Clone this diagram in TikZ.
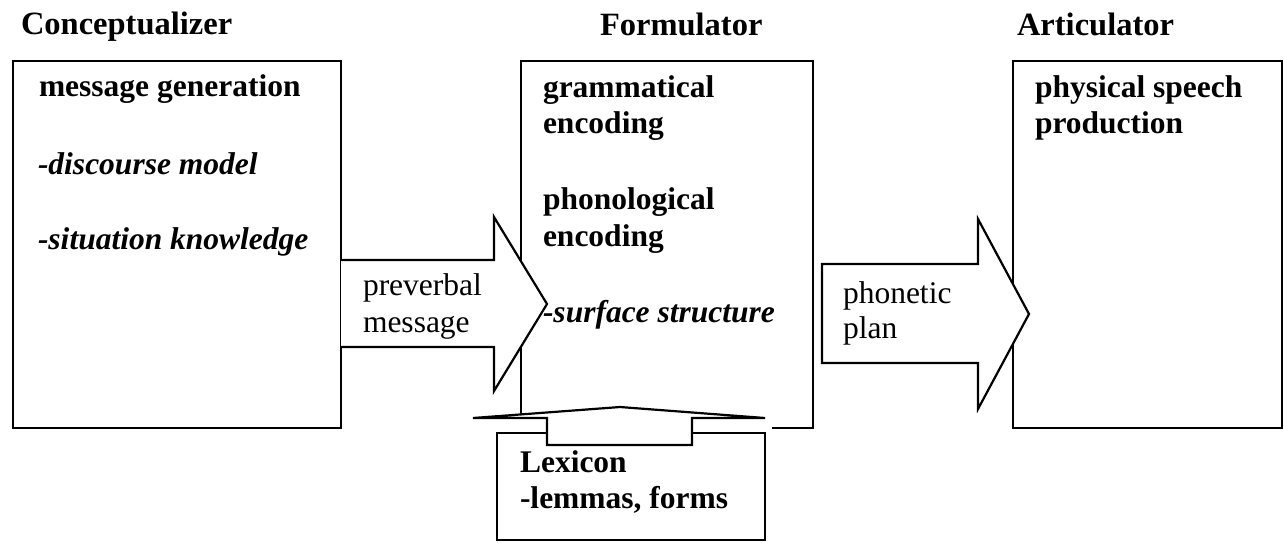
\documentclass[tikz,border=0pt]{standalone}
\usepackage{fontspec}
\setmainfont{Liberation Serif}
\begin{document}
\begin{tikzpicture}[x=1pt,y=-1pt,
  box/.style={draw,line width=2.2pt,rectangle,inner sep=0pt,outer sep=0pt,anchor=north west},
  txt/.style={anchor=base west,inner sep=0pt,outer sep=0pt,font=\fontsize{31.5}{36}\selectfont},
  bt/.style={txt,font=\fontsize{31.5}{36}\selectfont\bfseries},
  ttl/.style={txt,font=\fontsize{32.5}{36}\selectfont\bfseries},
  bit/.style={txt,font=\fontsize{31.5}{36}\selectfont\bfseries\itshape},
  blockarrow/.style={draw,fill=white,line width=2.2pt,line join=miter}]
\useasboundingbox (0,0) rectangle (1284,542);
% boxes
\node[box,minimum width=328pt,minimum height=367pt] (concept) at (13,61) {};
\node[box,minimum width=292pt,minimum height=367pt] (formul) at (521,61) {};
\node[box,minimum width=269pt,minimum height=367pt] (artic) at (1013,61) {};
\node[box,minimum width=268pt,minimum height=107pt] (lex) at (497,433) {};
% hide the lower part of the formulator box behind the lexicon arrow
\fill[white] (515,418.5) rectangle (772,430.7);
% block arrows
\filldraw[blockarrow] (341,260) -- (494,260) -- (494,217) -- (547,304) -- (494,391) -- (494,347) -- (341,347);
\filldraw[blockarrow] (822,264) -- (978,264) -- (978,219) -- (1029,314) -- (978,409) -- (978,363) -- (822,363) -- cycle;
\filldraw[blockarrow] (547,445) -- (547,418) -- (473,418) -- (620,407) -- (765,418) -- (692,418) -- (692,445) -- cycle;
% titles
\node[ttl] (tconcept) at (21,34) {Conceptualizer};
\node[ttl] (tformul) at (600,35) {Formulator};
\node[ttl] (tartic) at (1017,35) {Articulator};
% conceptualizer
\node[bt] (c1) at (39,96) {message generation};
\node[bit] (c2) at (38,174) {-discourse model};
\node[bit] (c3) at (38,249) {-situation knowledge};
% formulator
\node[bt] (f1) at (543,97) {grammatical};
\node[bt] (f2) at (543,133) {encoding};
\node[bt] (f3) at (543,209) {phonological};
\node[bt] (f4) at (543,246) {encoding};
\node[bit] (f5) at (543,322) {-surface structure};
% articulator
\node[bt] (a1) at (1035,97) {physical speech};
\node[bt] (a2) at (1035,133) {production};
% arrow labels
\node[txt] (p1) at (363,295) {preverbal};
\node[txt] (p2) at (363,332) {message};
\node[txt] (q1) at (843,303) {phonetic};
\node[txt] (q2) at (843,338) {plan};
% lexicon
\node[bt] (l1) at (520,472) {Lexicon};
\node[bt] (l2) at (520,508) {-lemmas, forms};
\end{tikzpicture}
\end{document}
